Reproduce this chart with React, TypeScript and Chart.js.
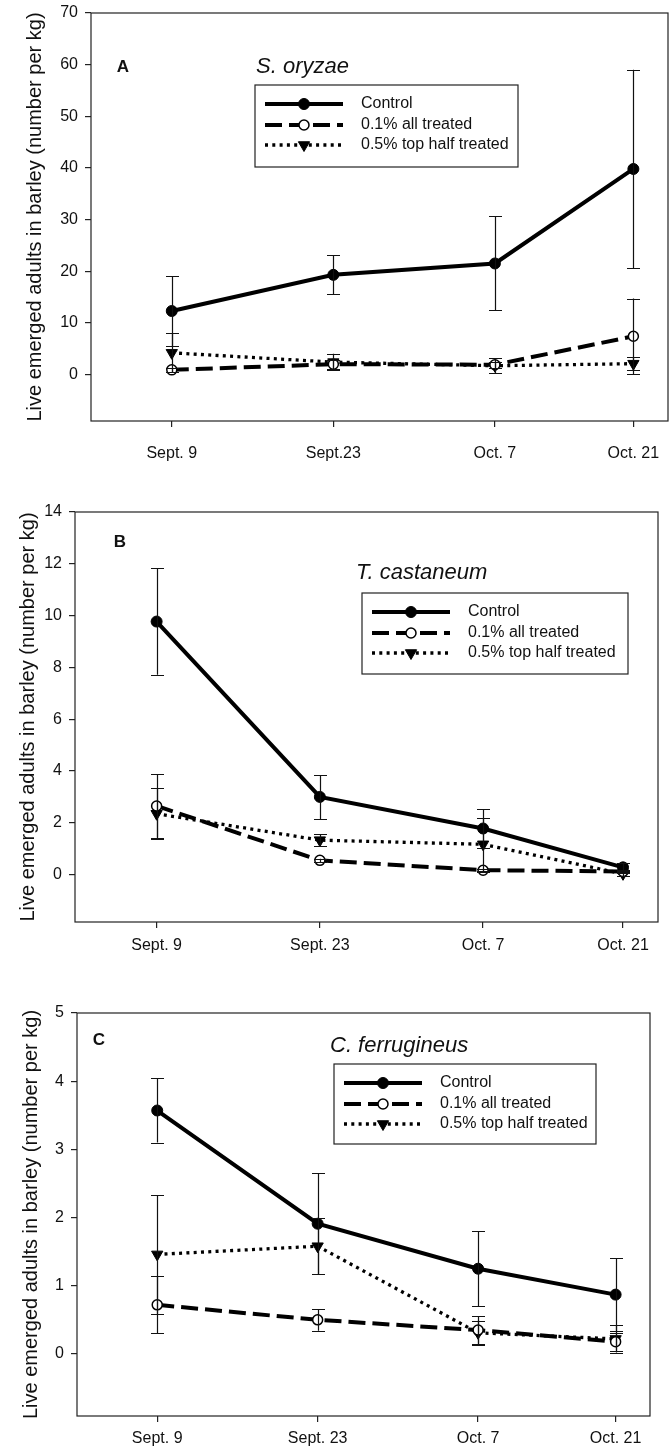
import React, { useEffect, useRef } from "react";
import { Chart, registerables } from "chart.js";

Chart.register(...registerables);

// ---------- data ----------
const sampleDays = [0, 14, 28, 40];
const dateLabelsA = ["Sept. 9", "Sept.23", "Oct. 7", "Oct. 21"];
const dateLabelsBC = ["Sept. 9", "Sept. 23", "Oct. 7", "Oct. 21"];
const seriesNames = ["Control", "0.1% all treated", "0.5% top half treated"];
const yAxisTitle = "Live emerged adults in barley (number per kg)";

// Panel A – S. oryzae
const oryzaeControl = [12.3, 19.3, 21.5, 39.8];
const oryzaeControlErr = [6.8, 3.8, 9.1, 19.2];
const oryzaeAll = [0.9, 2.0, 1.9, 7.4];
const oryzaeAllErr = [0.4, 0.9, 0.6, 7.3];
const oryzaeTop = [4.2, 2.4, 1.7, 2.1];
const oryzaeTopErr = [3.8, 1.6, 1.5, 1.2];
const oryzaeTicks = [0, 10, 20, 30, 40, 50, 60, 70];

// Panel B – T. castaneum
const castaneumControl = [9.77, 3.0, 1.78, 0.28];
const castaneumControlErr = [2.05, 0.85, 0.75, 0.17];
const castaneumAll = [2.65, 0.55, 0.17, 0.12];
const castaneumAllErr = [1.22, 0.06, 0.06, 0.05];
const castaneumTop = [2.35, 1.33, 1.17, 0.03];
const castaneumTopErr = [0.98, 0.22, 1.02, 0.1];
const castaneumTicks = [0, 2, 4, 6, 8, 10, 12, 14];

// Panel C – C. ferrugineus
const ferrugineusControl = [3.57, 1.91, 1.25, 0.87];
const ferrugineusControlErr = [0.47, 0.74, 0.55, 0.53];
const ferrugineusAll = [0.72, 0.5, 0.35, 0.18];
const ferrugineusAllErr = [0.42, 0.16, 0.2, 0.13];
const ferrugineusTop = [1.46, 1.58, 0.31, 0.22];
const ferrugineusTopErr = [0.87, 0.41, 0.18, 0.2];
const ferrugineusTicks = [0, 1, 2, 3, 4, 5];

// ---------- styles / layout ----------
const FONT = "'Liberation Sans', Arial, Helvetica, sans-serif";
const INK = "#111";

const seriesStyles = [
  { lw: 4, dash: [] as number[], ps: "circle", r: 5.5, bg: "#000", pbw: 1, rot: 0 },
  { lw: 4, dash: [17, 7], ps: "circle", r: 5, bg: "#fff", pbw: 1.5, rot: 0 },
  { lw: 3.3, dash: [3, 4.3], ps: "triangle", r: 6.5, bg: "#000", pbw: 1, rot: 180 },
];

type Panel = {
  top: number;
  height: number;
  area: { left: number; top: number; right: number; bottom: number };
  yMin: number;
  yMax: number;
  yTicks: number[];
  xLabels: string[];
  series: { values: number[]; errors: number[] }[];
  letter: { text: string; x: number; y: number };
  species: { text: string; x: number; y: number };
  legend: { x: number; y: number; w: number; h: number };
  titleCenterX: number;
  xLabelPad: number;
};

const W = 669;

const panels: Panel[] = [
  {
    top: 0,
    height: 480,
    area: { left: 91, top: 13, right: 668, bottom: 421 },
    yMin: -9,
    yMax: 70,
    yTicks: oryzaeTicks,
    xLabels: dateLabelsA,
    series: [
      { values: oryzaeControl, errors: oryzaeControlErr },
      { values: oryzaeAll, errors: oryzaeAllErr },
      { values: oryzaeTop, errors: oryzaeTopErr },
    ],
    letter: { text: "A", x: 123, y: 67 },
    species: { text: "S. oryzae", x: 256, y: 67 },
    legend: { x: 255, y: 85, w: 263, h: 82 },
    titleCenterX: 35,
    xLabelPad: 17,
  },
  {
    top: 480,
    height: 480,
    area: { left: 75, top: 32, right: 658, bottom: 442 },
    yMin: -1.83,
    yMax: 14,
    yTicks: castaneumTicks,
    xLabels: dateLabelsBC,
    series: [
      { values: castaneumControl, errors: castaneumControlErr },
      { values: castaneumAll, errors: castaneumAllErr },
      { values: castaneumTop, errors: castaneumTopErr },
    ],
    letter: { text: "B", x: 120, y: 62 },
    species: { text: "T. castaneum", x: 356, y: 93 },
    legend: { x: 362, y: 113, w: 266, h: 81 },
    titleCenterX: 28,
    xLabelPad: 8,
  },
  {
    top: 960,
    height: 491,
    area: { left: 77, top: 53, right: 650, bottom: 456 },
    yMin: -0.91,
    yMax: 5,
    yTicks: ferrugineusTicks,
    xLabels: dateLabelsBC,
    series: [
      { values: ferrugineusControl, errors: ferrugineusControlErr },
      { values: ferrugineusAll, errors: ferrugineusAllErr },
      { values: ferrugineusTop, errors: ferrugineusTopErr },
    ],
    letter: { text: "C", x: 99, y: 80 },
    species: { text: "C. ferrugineus", x: 330, y: 86 },
    legend: { x: 334, y: 104, w: 262, h: 80 },
    titleCenterX: 31,
    xLabelPad: 7,
  },
];

function drawMarker(ctx: CanvasRenderingContext2D, i: number, x: number, y: number) {
  const s = seriesStyles[i];
  ctx.save();
  ctx.setLineDash([]);
  ctx.fillStyle = s.bg;
  ctx.strokeStyle = "#000";
  ctx.lineWidth = s.pbw;
  ctx.beginPath();
  if (s.ps === "circle") {
    ctx.arc(x, y, s.r, 0, Math.PI * 2);
  } else {
    let rad = (s.rot * Math.PI) / 180;
    for (let k = 0; k < 3; k++) {
      const px = x + Math.sin(rad) * s.r;
      const py = y - Math.cos(rad) * s.r;
      if (k === 0) ctx.moveTo(px, py);
      else ctx.lineTo(px, py);
      rad += (2 * Math.PI) / 3;
    }
    ctx.closePath();
  }
  ctx.fill();
  ctx.stroke();
  ctx.restore();
}

function makePlugin(p: Panel) {
  return {
    id: "decor",
    beforeDatasetsDraw(chart: any) {
      const a = chart.chartArea;
      const ctx = chart.ctx;
      ctx.save();
      ctx.strokeStyle = "#222";
      ctx.lineWidth = 1.2;
      ctx.strokeRect(a.left, a.top, a.right - a.left, a.bottom - a.top);
      ctx.restore();
    },
    afterDatasetsDraw(chart: any) {
      const ctx = chart.ctx;
      const yScale = chart.scales.y;
      ctx.save();
      ctx.strokeStyle = "#111";
      ctx.lineWidth = 1.2;
      ctx.setLineDash([]);
      chart.data.datasets.forEach((ds: any, di: number) => {
        const meta = chart.getDatasetMeta(di);
        ds.errors.forEach((e: number, j: number) => {
          const pt = meta.data[j];
          const v = ds.data[j].y;
          const yt = yScale.getPixelForValue(v + e);
          const yb = yScale.getPixelForValue(v - e);
          const x = Math.round(pt.x) + 0.5;
          ctx.beginPath();
          ctx.moveTo(x, yt);
          ctx.lineTo(x, yb);
          ctx.moveTo(x - 6.5, Math.round(yt) + 0.5);
          ctx.lineTo(x + 6.5, Math.round(yt) + 0.5);
          ctx.moveTo(x - 6.5, Math.round(yb) + 0.5);
          ctx.lineTo(x + 6.5, Math.round(yb) + 0.5);
          ctx.stroke();
        });
      });
      ctx.restore();
    },
    afterDraw(chart: any) {
      const ctx = chart.ctx;
      ctx.save();
      ctx.fillStyle = INK;
      ctx.textBaseline = "middle";
      // panel letter
      ctx.textAlign = "center";
      ctx.font = `bold 17px ${FONT}`;
      ctx.fillText(p.letter.text, p.letter.x, p.letter.y);
      // species
      ctx.textAlign = "left";
      ctx.font = `italic 22px ${FONT}`;
      ctx.fillText(p.species.text, p.species.x, p.species.y);
      // legend box
      const L = p.legend;
      ctx.strokeStyle = "#222";
      ctx.lineWidth = 1.2;
      ctx.strokeRect(L.x, L.y, L.w, L.h);
      const rowOffsets = [19, 40, 60];
      seriesNames.forEach((name, i) => {
        const y = L.y + rowOffsets[i];
        const s = seriesStyles[i];
        ctx.save();
        ctx.strokeStyle = "#000";
        ctx.lineWidth = s.lw;
        ctx.setLineDash(s.dash);
        ctx.beginPath();
        ctx.moveTo(L.x + 10, y);
        ctx.lineTo(L.x + 88, y);
        ctx.stroke();
        ctx.restore();
        drawMarker(ctx, i, L.x + 49, y);
        ctx.font = `16px ${FONT}`;
        ctx.fillStyle = INK;
        ctx.textAlign = "left";
        ctx.fillText(name, L.x + 106, y);
      });
      ctx.restore();
    },
  };
}

function makeConfig(p: Panel): any {
  const datasets = p.series.map((s, i) => {
    const st = seriesStyles[i];
    return {
      label: seriesNames[i],
      data: sampleDays.map((d, j) => ({ x: d, y: s.values[j] })),
      errors: s.errors,
      borderColor: "#000",
      backgroundColor: st.bg,
      borderWidth: st.lw,
      borderDash: st.dash,
      borderCapStyle: "butt",
      pointStyle: st.ps,
      pointRadius: st.r,
      pointRotation: st.rot,
      pointBackgroundColor: st.bg,
      pointBorderColor: "#000",
      pointBorderWidth: st.pbw,
      tension: 0,
      fill: false,
    };
  });
  const canvasH = p.height;
  return {
    type: "line",
    data: { datasets },
    options: {
      responsive: false,
      animation: false,
      devicePixelRatio: 1,
      layout: {
        autoPadding: false,
        padding: { top: p.area.top, right: W - p.area.right, left: 0, bottom: 0 },
      },
      plugins: { legend: { display: false }, tooltip: { enabled: false } },
      scales: {
        x: {
          type: "linear",
          min: -7,
          max: 43,
          afterFit(scale: any) {
            scale.height = canvasH - p.area.bottom;
            scale.paddingLeft = 0;
            scale.paddingRight = 0;
          },
          afterBuildTicks(scale: any) {
            scale.ticks = sampleDays.map((v) => ({ value: v }));
          },
          border: { display: false },
          grid: {
            drawOnChartArea: false,
            drawTicks: true,
            tickLength: 6,
            color: "#222",
            lineWidth: 1.2,
          },
          ticks: {
            autoSkip: false,
            maxRotation: 0,
            padding: p.xLabelPad,
            color: INK,
            font: { family: FONT, size: 16 },
            callback: (_v: any, idx: number) => p.xLabels[idx],
          },
        },
        y: {
          type: "linear",
          min: p.yMin,
          max: p.yMax,
          afterFit(scale: any) {
            scale.width = p.area.left;
            scale.paddingTop = 0;
            scale.paddingBottom = 0;
          },
          afterBuildTicks(scale: any) {
            scale.ticks = p.yTicks.map((v) => ({ value: v }));
          },
          border: { display: false },
          grid: {
            drawOnChartArea: false,
            drawTicks: true,
            tickLength: 6,
            color: "#222",
            lineWidth: 1.2,
          },
          ticks: {
            padding: 7,
            color: INK,
            font: { family: FONT, size: 16 },
            callback: (v: any) => String(v),
          },
          title: {
            display: true,
            text: yAxisTitle,
            color: INK,
            font: { family: FONT, size: 20 },
            padding: { top: p.titleCenterX - 12, bottom: 0 },
          },
        },
      },
    },
    plugins: [makePlugin(p)],
  };
}

function PanelChart({ p }: { p: Panel }) {
  const ref = useRef<HTMLCanvasElement | null>(null);
  useEffect(() => {
    if (!ref.current) return;
    const chart = new Chart(ref.current, makeConfig(p));
    return () => chart.destroy();
  }, [p]);
  return (
    <div style={{ position: "absolute", left: 0, top: p.top, width: W, height: p.height }}>
      <canvas ref={ref} width={W} height={p.height} style={{ display: "block", width: W, height: p.height }} />
    </div>
  );
}

export default function App() {
  return (
    <div
      style={{
        position: "absolute",
        left: 0,
        top: 0,
        width: W,
        height: 1451,
        background: "#fff",
        overflow: "hidden",
      }}
    >
      {panels.map((p, i) => (
        <PanelChart key={i} p={p} />
      ))}
    </div>
  );
}
